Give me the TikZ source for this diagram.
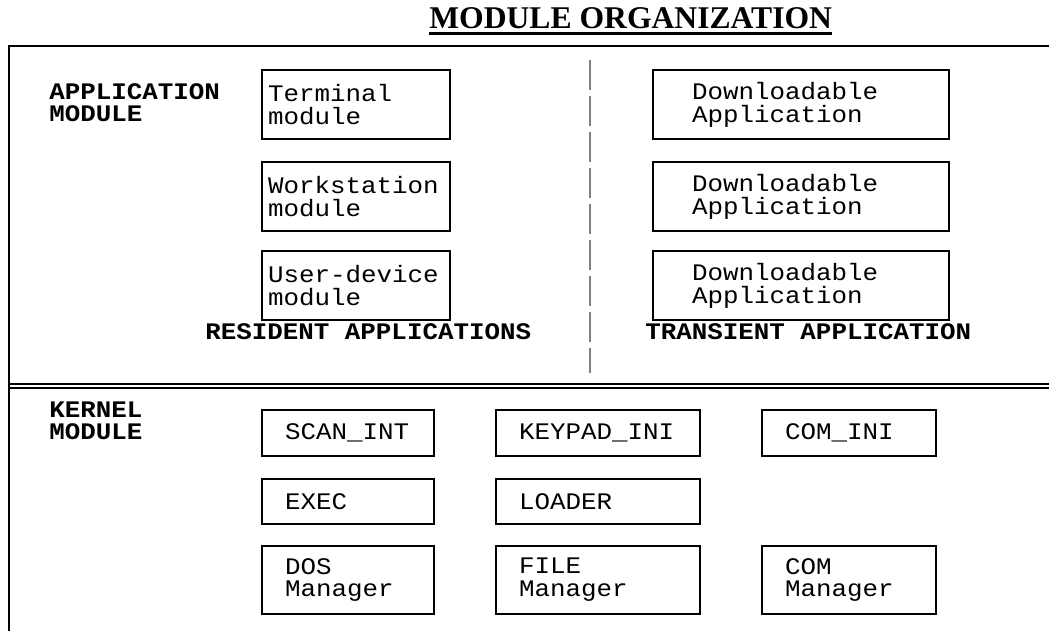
\documentclass[tikz,border=0pt]{standalone}
\usepackage{fontspec}
\setmainfont{Liberation Serif}
\newfontfamily\cour[FakeStretch=1.09]{Liberation Mono}
\newcommand{\boxfont}{\cour\fontsize{13.5pt}{13pt}\selectfont}
\newcommand{\labfont}{\cour\bfseries\fontsize{13.5pt}{13pt}\selectfont}
\tikzset{
  mbox/.style={draw, line width=1.2pt, anchor=north west, align=left, font=\boxfont, inner ysep=0pt},
  appbox/.style={mbox, minimum width=3.76cm, minimum height=1.38cm, inner xsep=0.12cm, text width=3.52cm},
  dlbox/.style={mbox, minimum width=5.92cm, minimum height=1.38cm, inner xsep=0.78cm, text width=4.36cm},
  kbox/.style={mbox, minimum height=#1, inner xsep=0.46cm},
  lab/.style={anchor=base west, align=left, font=\labfont, inner sep=0pt},
  frame/.style={line width=1.1pt}
}
\begin{document}
\begin{tikzpicture}[x=0.02cm,y=-0.02cm]
  \useasboundingbox (0,0) rectangle (1049,631);
  \node[anchor=base west, inner sep=0pt, font=\bfseries\fontsize{18pt}{20pt}\selectfont]
    (title) at (429,29) {MODULE ORGANIZATION};
  \draw[line width=1.7pt] ([yshift=-0.09cm]title.base west) -- ([yshift=-0.09cm]title.base east);

  \draw[frame] (1049,46) -- (9,46) -- (9,631);
  \draw[frame] (9,384) -- (1049,384);
  \draw[frame] (9,388) -- (1049,388);
  \draw[gray, line width=0.6pt, dash pattern=on 0.6cm off 0.12cm] (590,60) -- (590,373);

  \node[lab] (appmod) at (49,122) {APPLICATION\\MODULE};
  \node[appbox] (term) at (261,69) {Terminal\\module};
  \node[appbox] (work) at (261,161) {Workstation\\module};
  \node[appbox] (user) at (261,250) {User-device\\module};
  \node[dlbox] (dla) at (652,69) {Downloadable\\Application};
  \node[dlbox] (dlb) at (652,161) {Downloadable\\Application};
  \node[dlbox] (dlc) at (652,250) {Downloadable\\Application};
  \node[lab] (resident) at (205,340) {RESIDENT APPLICATIONS};
  \node[lab] (transient) at (645,340) {TRANSIENT APPLICATION};

  \node[lab] (kermod) at (49,440) {KERNEL\\MODULE};
  \node[kbox=0.92cm, text width=2.52cm] (scan) at (261,409) {SCAN\_INT};
  \node[kbox=0.92cm, text width=3.16cm] (keypad) at (495,409) {KEYPAD\_INI};
  \node[kbox=0.92cm, text width=2.56cm] (comini) at (761,409) {COM\_INI};
  \node[kbox=0.9cm, text width=2.52cm] (exec) at (261,478) {EXEC};
  \node[kbox=0.9cm, text width=3.16cm] (loader) at (495,478) {LOADER};
  \node[kbox=1.36cm, text width=2.52cm] (dos) at (261,545) {DOS\\Manager};
  \node[kbox=1.36cm, text width=3.16cm] (file) at (495,545) {FILE\\Manager};
  \node[kbox=1.36cm, text width=2.56cm] (comman) at (761,545) {COM\\Manager};
\end{tikzpicture}
\end{document}
